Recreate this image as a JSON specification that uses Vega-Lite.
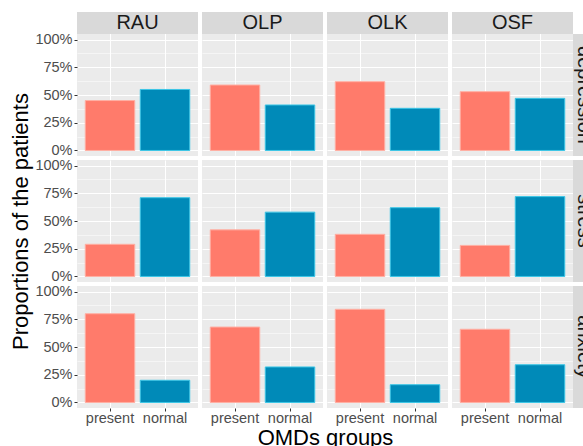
{
  "$schema": "https://vega.github.io/schema/vega-lite/v6.json",
  "background": "white",
  "padding": {"left": 9, "top": 12, "right": 0, "bottom": 0},
  "datasets": {
    "d": [
      {"condition": "depression", "omd": "RAU", "group": "present", "value": 0.45},
      {"condition": "depression", "omd": "RAU", "group": "normal", "value": 0.55},
      {"condition": "depression", "omd": "OLP", "group": "present", "value": 0.59},
      {"condition": "depression", "omd": "OLP", "group": "normal", "value": 0.41},
      {"condition": "depression", "omd": "OLK", "group": "present", "value": 0.62},
      {"condition": "depression", "omd": "OLK", "group": "normal", "value": 0.38},
      {"condition": "depression", "omd": "OSF", "group": "present", "value": 0.53},
      {"condition": "depression", "omd": "OSF", "group": "normal", "value": 0.47},
      {"condition": "stress", "omd": "RAU", "group": "present", "value": 0.29},
      {"condition": "stress", "omd": "RAU", "group": "normal", "value": 0.71},
      {"condition": "stress", "omd": "OLP", "group": "present", "value": 0.42},
      {"condition": "stress", "omd": "OLP", "group": "normal", "value": 0.58},
      {"condition": "stress", "omd": "OLK", "group": "present", "value": 0.38},
      {"condition": "stress", "omd": "OLK", "group": "normal", "value": 0.62},
      {"condition": "stress", "omd": "OSF", "group": "present", "value": 0.28},
      {"condition": "stress", "omd": "OSF", "group": "normal", "value": 0.72},
      {"condition": "anxiety", "omd": "RAU", "group": "present", "value": 0.80},
      {"condition": "anxiety", "omd": "RAU", "group": "normal", "value": 0.20},
      {"condition": "anxiety", "omd": "OLP", "group": "present", "value": 0.68},
      {"condition": "anxiety", "omd": "OLP", "group": "normal", "value": 0.32},
      {"condition": "anxiety", "omd": "OLK", "group": "present", "value": 0.84},
      {"condition": "anxiety", "omd": "OLK", "group": "normal", "value": 0.16},
      {"condition": "anxiety", "omd": "OSF", "group": "present", "value": 0.66},
      {"condition": "anxiety", "omd": "OSF", "group": "normal", "value": 0.34}
    ]
  },
  "columns": 4,
  "spacing": {"row": 4, "column": 4},
  "align": "each",
  "bounds": "flush",
  "concat": [
    {
      "width": 121, "height": 144,
      "data": {"name": "d"},
      "transform": [{"filter": "datum.condition == 'depression' && datum.omd == 'RAU'"}],
      "resolve": {"axis": {"x": "independent", "y": "independent"}},
      "layer": [
        {"mark": {"type": "bar", "strokeWidth": 1},
         "encoding": {
           "x": {"field": "group", "type": "nominal", "scale": {"domain": ["present", "normal"], "paddingInner": 0.1, "paddingOuter": 0.15}, "axis": {"labels": false, "ticks": false, "title": null, "grid": true, "bandPosition": 0.5, "gridWidth": 1.1}},
           "y": {"field": "value", "type": "quantitative", "scale": {"domain": [-0.05, 1.2484], "nice": false}, "axis": {"values": [0, 0.125, 0.25, 0.375, 0.5, 0.625, 0.75, 0.875, 1], "format": ".0%", "labelExpr": "datum.value * 4 % 1 == 0 ? datum.label : ''", "tickOpacity": {"condition": {"test": "datum.value * 4 % 1 == 0", "value": 1}, "value": 0}, "gridWidth": {"condition": {"test": "datum.value * 4 % 1 == 0", "value": 1.1}, "value": 0.5}, "title": null}},
           "color": {"field": "group", "type": "nominal", "scale": {"domain": ["present", "normal"], "range": ["#FF7B6B", "#008AB8"]}, "legend": null},
           "stroke": {"field": "group", "type": "nominal", "scale": {"domain": ["present", "normal"], "range": ["#FFAFA3", "#3CC6E6"]}, "legend": null}
         }},
        {"transform": [{"filter": "datum.group == 'present'"}], "mark": {"type": "rect", "fill": "#D9D9D9"},
         "encoding": {"y": {"datum": 1.05, "type": "quantitative", "scale": {"domain": [-0.05, 1.2484], "nice": false}, "axis": null}, "y2": {"datum": 1.2484}}},
        {"transform": [{"filter": "datum.group == 'present'"}], "mark": {"type": "text", "fontSize": 20, "color": "#1A1A1A", "font": "Liberation Sans", "baseline": "middle", "align": "center"},
         "encoding": {"y": {"datum": 1.149, "type": "quantitative", "scale": {"domain": [-0.05, 1.2484], "nice": false}, "axis": null}, "text": {"field": "omd"}}}
      ]
    },
    {
      "width": 121, "height": 144,
      "data": {"name": "d"},
      "transform": [{"filter": "datum.condition == 'depression' && datum.omd == 'OLP'"}],
      "resolve": {"axis": {"x": "independent", "y": "independent"}},
      "layer": [
        {"mark": {"type": "bar", "strokeWidth": 1},
         "encoding": {
           "x": {"field": "group", "type": "nominal", "scale": {"domain": ["present", "normal"], "paddingInner": 0.1, "paddingOuter": 0.15}, "axis": {"labels": false, "ticks": false, "title": null, "grid": true, "bandPosition": 0.5, "gridWidth": 1.1}},
           "y": {"field": "value", "type": "quantitative", "scale": {"domain": [-0.05, 1.2484], "nice": false}, "axis": {"values": [0, 0.125, 0.25, 0.375, 0.5, 0.625, 0.75, 0.875, 1], "labels": false, "ticks": false, "gridWidth": {"condition": {"test": "datum.value * 4 % 1 == 0", "value": 1.1}, "value": 0.5}, "title": null}},
           "color": {"field": "group", "type": "nominal", "scale": {"domain": ["present", "normal"], "range": ["#FF7B6B", "#008AB8"]}, "legend": null},
           "stroke": {"field": "group", "type": "nominal", "scale": {"domain": ["present", "normal"], "range": ["#FFAFA3", "#3CC6E6"]}, "legend": null}
         }},
        {"transform": [{"filter": "datum.group == 'present'"}], "mark": {"type": "rect", "fill": "#D9D9D9"},
         "encoding": {"y": {"datum": 1.05, "type": "quantitative", "scale": {"domain": [-0.05, 1.2484], "nice": false}, "axis": null}, "y2": {"datum": 1.2484}}},
        {"transform": [{"filter": "datum.group == 'present'"}], "mark": {"type": "text", "fontSize": 20, "color": "#1A1A1A", "font": "Liberation Sans", "baseline": "middle", "align": "center"},
         "encoding": {"y": {"datum": 1.149, "type": "quantitative", "scale": {"domain": [-0.05, 1.2484], "nice": false}, "axis": null}, "text": {"field": "omd"}}}
      ]
    },
    {
      "width": 121, "height": 144,
      "data": {"name": "d"},
      "transform": [{"filter": "datum.condition == 'depression' && datum.omd == 'OLK'"}],
      "resolve": {"axis": {"x": "independent", "y": "independent"}},
      "layer": [
        {"mark": {"type": "bar", "strokeWidth": 1},
         "encoding": {
           "x": {"field": "group", "type": "nominal", "scale": {"domain": ["present", "normal"], "paddingInner": 0.1, "paddingOuter": 0.15}, "axis": {"labels": false, "ticks": false, "title": null, "grid": true, "bandPosition": 0.5, "gridWidth": 1.1}},
           "y": {"field": "value", "type": "quantitative", "scale": {"domain": [-0.05, 1.2484], "nice": false}, "axis": {"values": [0, 0.125, 0.25, 0.375, 0.5, 0.625, 0.75, 0.875, 1], "labels": false, "ticks": false, "gridWidth": {"condition": {"test": "datum.value * 4 % 1 == 0", "value": 1.1}, "value": 0.5}, "title": null}},
           "color": {"field": "group", "type": "nominal", "scale": {"domain": ["present", "normal"], "range": ["#FF7B6B", "#008AB8"]}, "legend": null},
           "stroke": {"field": "group", "type": "nominal", "scale": {"domain": ["present", "normal"], "range": ["#FFAFA3", "#3CC6E6"]}, "legend": null}
         }},
        {"transform": [{"filter": "datum.group == 'present'"}], "mark": {"type": "rect", "fill": "#D9D9D9"},
         "encoding": {"y": {"datum": 1.05, "type": "quantitative", "scale": {"domain": [-0.05, 1.2484], "nice": false}, "axis": null}, "y2": {"datum": 1.2484}}},
        {"transform": [{"filter": "datum.group == 'present'"}], "mark": {"type": "text", "fontSize": 20, "color": "#1A1A1A", "font": "Liberation Sans", "baseline": "middle", "align": "center"},
         "encoding": {"y": {"datum": 1.149, "type": "quantitative", "scale": {"domain": [-0.05, 1.2484], "nice": false}, "axis": null}, "text": {"field": "omd"}}}
      ]
    },
    {
      "width": 121, "height": 144,
      "data": {"name": "d"},
      "transform": [{"filter": "datum.condition == 'depression' && datum.omd == 'OSF'"}],
      "resolve": {"scale": {"x": "independent"}, "axis": {"x": "independent", "y": "independent"}},
      "layer": [
        {"mark": {"type": "bar", "strokeWidth": 1},
         "encoding": {
           "x": {"field": "group", "type": "nominal", "scale": {"domain": ["present", "normal"], "paddingInner": 0.1, "paddingOuter": 0.15}, "axis": {"labels": false, "ticks": false, "title": null, "grid": true, "bandPosition": 0.5, "gridWidth": 1.1}},
           "y": {"field": "value", "type": "quantitative", "scale": {"domain": [-0.05, 1.2484], "nice": false}, "axis": {"values": [0, 0.125, 0.25, 0.375, 0.5, 0.625, 0.75, 0.875, 1], "labels": false, "ticks": false, "gridWidth": {"condition": {"test": "datum.value * 4 % 1 == 0", "value": 1.1}, "value": 0.5}, "title": null}},
           "color": {"field": "group", "type": "nominal", "scale": {"domain": ["present", "normal"], "range": ["#FF7B6B", "#008AB8"]}, "legend": null},
           "stroke": {"field": "group", "type": "nominal", "scale": {"domain": ["present", "normal"], "range": ["#FFAFA3", "#3CC6E6"]}, "legend": null}
         }},
        {"transform": [{"filter": "datum.group == 'present'"}], "mark": {"type": "rect", "fill": "#D9D9D9"},
         "encoding": {"y": {"datum": 1.05, "type": "quantitative", "scale": {"domain": [-0.05, 1.2484], "nice": false}, "axis": null}, "y2": {"datum": 1.2484}}},
        {"transform": [{"filter": "datum.group == 'present'"}], "mark": {"type": "text", "fontSize": 20, "color": "#1A1A1A", "font": "Liberation Sans", "baseline": "middle", "align": "center"},
         "encoding": {"y": {"datum": 1.149, "type": "quantitative", "scale": {"domain": [-0.05, 1.2484], "nice": false}, "axis": null}, "text": {"field": "omd"}}},
        {"transform": [{"filter": "datum.group == 'present'"}], "mark": {"type": "rect", "fill": "#D9D9D9"},
         "encoding": {"x": {"datum": 1, "type": "quantitative", "scale": {"domain": [0, 1], "nice": false}, "axis": null}, "x2": {"datum": 1.25}, "y": {"datum": -0.05, "type": "quantitative", "scale": {"domain": [-0.05, 1.2484], "nice": false}, "axis": null}, "y2": {"datum": 1.05}}},
        {"transform": [{"filter": "datum.group == 'present'"}], "mark": {"type": "text", "fontSize": 20, "color": "#1A1A1A", "font": "Liberation Sans", "baseline": "middle", "align": "center", "angle": 90},
         "encoding": {"x": {"datum": 1.095, "type": "quantitative", "scale": {"domain": [0, 1], "nice": false}, "axis": null}, "y": {"datum": 0.5, "type": "quantitative", "scale": {"domain": [-0.05, 1.2484], "nice": false}, "axis": null}, "text": {"field": "condition"}}}
      ]
    },
    {
      "width": 121, "height": 122,
      "data": {"name": "d"},
      "transform": [{"filter": "datum.condition == 'stress' && datum.omd == 'RAU'"}],
      "layer": [
        {"mark": {"type": "bar", "strokeWidth": 1},
         "encoding": {
           "x": {"field": "group", "type": "nominal", "scale": {"domain": ["present", "normal"], "paddingInner": 0.1, "paddingOuter": 0.15}, "axis": {"labels": false, "ticks": false, "title": null, "grid": true, "bandPosition": 0.5, "gridWidth": 1.1}},
           "y": {"field": "value", "type": "quantitative", "scale": {"domain": [-0.05, 1.05], "nice": false}, "axis": {"values": [0, 0.125, 0.25, 0.375, 0.5, 0.625, 0.75, 0.875, 1], "format": ".0%", "labelExpr": "datum.value * 4 % 1 == 0 ? datum.label : ''", "tickOpacity": {"condition": {"test": "datum.value * 4 % 1 == 0", "value": 1}, "value": 0}, "gridWidth": {"condition": {"test": "datum.value * 4 % 1 == 0", "value": 1.1}, "value": 0.5}, "title": "Proportions of the patients", "titlePadding": 2}},
           "color": {"field": "group", "type": "nominal", "scale": {"domain": ["present", "normal"], "range": ["#FF7B6B", "#008AB8"]}, "legend": null},
           "stroke": {"field": "group", "type": "nominal", "scale": {"domain": ["present", "normal"], "range": ["#FFAFA3", "#3CC6E6"]}, "legend": null}
         }}
      ]
    },
    {
      "width": 121, "height": 122,
      "data": {"name": "d"},
      "transform": [{"filter": "datum.condition == 'stress' && datum.omd == 'OLP'"}],
      "layer": [
        {"mark": {"type": "bar", "strokeWidth": 1},
         "encoding": {
           "x": {"field": "group", "type": "nominal", "scale": {"domain": ["present", "normal"], "paddingInner": 0.1, "paddingOuter": 0.15}, "axis": {"labels": false, "ticks": false, "title": null, "grid": true, "bandPosition": 0.5, "gridWidth": 1.1}},
           "y": {"field": "value", "type": "quantitative", "scale": {"domain": [-0.05, 1.05], "nice": false}, "axis": {"values": [0, 0.125, 0.25, 0.375, 0.5, 0.625, 0.75, 0.875, 1], "labels": false, "ticks": false, "gridWidth": {"condition": {"test": "datum.value * 4 % 1 == 0", "value": 1.1}, "value": 0.5}, "title": null}},
           "color": {"field": "group", "type": "nominal", "scale": {"domain": ["present", "normal"], "range": ["#FF7B6B", "#008AB8"]}, "legend": null},
           "stroke": {"field": "group", "type": "nominal", "scale": {"domain": ["present", "normal"], "range": ["#FFAFA3", "#3CC6E6"]}, "legend": null}
         }}
      ]
    },
    {
      "width": 121, "height": 122,
      "data": {"name": "d"},
      "transform": [{"filter": "datum.condition == 'stress' && datum.omd == 'OLK'"}],
      "layer": [
        {"mark": {"type": "bar", "strokeWidth": 1},
         "encoding": {
           "x": {"field": "group", "type": "nominal", "scale": {"domain": ["present", "normal"], "paddingInner": 0.1, "paddingOuter": 0.15}, "axis": {"labels": false, "ticks": false, "title": null, "grid": true, "bandPosition": 0.5, "gridWidth": 1.1}},
           "y": {"field": "value", "type": "quantitative", "scale": {"domain": [-0.05, 1.05], "nice": false}, "axis": {"values": [0, 0.125, 0.25, 0.375, 0.5, 0.625, 0.75, 0.875, 1], "labels": false, "ticks": false, "gridWidth": {"condition": {"test": "datum.value * 4 % 1 == 0", "value": 1.1}, "value": 0.5}, "title": null}},
           "color": {"field": "group", "type": "nominal", "scale": {"domain": ["present", "normal"], "range": ["#FF7B6B", "#008AB8"]}, "legend": null},
           "stroke": {"field": "group", "type": "nominal", "scale": {"domain": ["present", "normal"], "range": ["#FFAFA3", "#3CC6E6"]}, "legend": null}
         }}
      ]
    },
    {
      "width": 121, "height": 122,
      "data": {"name": "d"},
      "transform": [{"filter": "datum.condition == 'stress' && datum.omd == 'OSF'"}],
      "resolve": {"scale": {"x": "independent"}, "axis": {"x": "independent", "y": "independent"}},
      "layer": [
        {"mark": {"type": "bar", "strokeWidth": 1},
         "encoding": {
           "x": {"field": "group", "type": "nominal", "scale": {"domain": ["present", "normal"], "paddingInner": 0.1, "paddingOuter": 0.15}, "axis": {"labels": false, "ticks": false, "title": null, "grid": true, "bandPosition": 0.5, "gridWidth": 1.1}},
           "y": {"field": "value", "type": "quantitative", "scale": {"domain": [-0.05, 1.05], "nice": false}, "axis": {"values": [0, 0.125, 0.25, 0.375, 0.5, 0.625, 0.75, 0.875, 1], "labels": false, "ticks": false, "gridWidth": {"condition": {"test": "datum.value * 4 % 1 == 0", "value": 1.1}, "value": 0.5}, "title": null}},
           "color": {"field": "group", "type": "nominal", "scale": {"domain": ["present", "normal"], "range": ["#FF7B6B", "#008AB8"]}, "legend": null},
           "stroke": {"field": "group", "type": "nominal", "scale": {"domain": ["present", "normal"], "range": ["#FFAFA3", "#3CC6E6"]}, "legend": null}
         }},
        {"transform": [{"filter": "datum.group == 'present'"}], "mark": {"type": "rect", "fill": "#D9D9D9"},
         "encoding": {"x": {"datum": 1, "type": "quantitative", "scale": {"domain": [0, 1], "nice": false}, "axis": null}, "x2": {"datum": 1.25}, "y": {"datum": -0.05, "type": "quantitative", "scale": {"domain": [-0.05, 1.05], "nice": false}, "axis": null}, "y2": {"datum": 1.05}}},
        {"transform": [{"filter": "datum.group == 'present'"}], "mark": {"type": "text", "fontSize": 20, "color": "#1A1A1A", "font": "Liberation Sans", "baseline": "middle", "align": "center", "angle": 90},
         "encoding": {"x": {"datum": 1.095, "type": "quantitative", "scale": {"domain": [0, 1], "nice": false}, "axis": null}, "y": {"datum": 0.5, "type": "quantitative", "scale": {"domain": [-0.05, 1.05], "nice": false}, "axis": null}, "text": {"field": "condition"}}}
      ]
    },
    {
      "width": 121, "height": 122,
      "data": {"name": "d"},
      "transform": [{"filter": "datum.condition == 'anxiety' && datum.omd == 'RAU'"}],
      "layer": [
        {"mark": {"type": "bar", "strokeWidth": 1},
         "encoding": {
           "x": {"field": "group", "type": "nominal", "scale": {"domain": ["present", "normal"], "paddingInner": 0.1, "paddingOuter": 0.15}, "axis": {"labelAngle": 0, "labelPadding": 0, "title": null, "grid": true, "bandPosition": 0.5, "gridWidth": 1.1}},
           "y": {"field": "value", "type": "quantitative", "scale": {"domain": [-0.05, 1.05], "nice": false}, "axis": {"values": [0, 0.125, 0.25, 0.375, 0.5, 0.625, 0.75, 0.875, 1], "format": ".0%", "labelExpr": "datum.value * 4 % 1 == 0 ? datum.label : ''", "tickOpacity": {"condition": {"test": "datum.value * 4 % 1 == 0", "value": 1}, "value": 0}, "gridWidth": {"condition": {"test": "datum.value * 4 % 1 == 0", "value": 1.1}, "value": 0.5}, "title": null}},
           "color": {"field": "group", "type": "nominal", "scale": {"domain": ["present", "normal"], "range": ["#FF7B6B", "#008AB8"]}, "legend": null},
           "stroke": {"field": "group", "type": "nominal", "scale": {"domain": ["present", "normal"], "range": ["#FFAFA3", "#3CC6E6"]}, "legend": null}
         }}
      ]
    },
    {
      "width": 121, "height": 122,
      "data": {"name": "d"},
      "transform": [{"filter": "datum.condition == 'anxiety' && datum.omd == 'OLP'"}],
      "layer": [
        {"mark": {"type": "bar", "strokeWidth": 1},
         "encoding": {
           "x": {"field": "group", "type": "nominal", "scale": {"domain": ["present", "normal"], "paddingInner": 0.1, "paddingOuter": 0.15}, "axis": {"labelAngle": 0, "labelPadding": 0, "title": "OMDs groups", "titleX": 123, "titlePadding": 3, "grid": true, "bandPosition": 0.5, "gridWidth": 1.1}},
           "y": {"field": "value", "type": "quantitative", "scale": {"domain": [-0.05, 1.05], "nice": false}, "axis": {"values": [0, 0.125, 0.25, 0.375, 0.5, 0.625, 0.75, 0.875, 1], "labels": false, "ticks": false, "gridWidth": {"condition": {"test": "datum.value * 4 % 1 == 0", "value": 1.1}, "value": 0.5}, "title": null}},
           "color": {"field": "group", "type": "nominal", "scale": {"domain": ["present", "normal"], "range": ["#FF7B6B", "#008AB8"]}, "legend": null},
           "stroke": {"field": "group", "type": "nominal", "scale": {"domain": ["present", "normal"], "range": ["#FFAFA3", "#3CC6E6"]}, "legend": null}
         }}
      ]
    },
    {
      "width": 121, "height": 122,
      "data": {"name": "d"},
      "transform": [{"filter": "datum.condition == 'anxiety' && datum.omd == 'OLK'"}],
      "layer": [
        {"mark": {"type": "bar", "strokeWidth": 1},
         "encoding": {
           "x": {"field": "group", "type": "nominal", "scale": {"domain": ["present", "normal"], "paddingInner": 0.1, "paddingOuter": 0.15}, "axis": {"labelAngle": 0, "labelPadding": 0, "title": null, "grid": true, "bandPosition": 0.5, "gridWidth": 1.1}},
           "y": {"field": "value", "type": "quantitative", "scale": {"domain": [-0.05, 1.05], "nice": false}, "axis": {"values": [0, 0.125, 0.25, 0.375, 0.5, 0.625, 0.75, 0.875, 1], "labels": false, "ticks": false, "gridWidth": {"condition": {"test": "datum.value * 4 % 1 == 0", "value": 1.1}, "value": 0.5}, "title": null}},
           "color": {"field": "group", "type": "nominal", "scale": {"domain": ["present", "normal"], "range": ["#FF7B6B", "#008AB8"]}, "legend": null},
           "stroke": {"field": "group", "type": "nominal", "scale": {"domain": ["present", "normal"], "range": ["#FFAFA3", "#3CC6E6"]}, "legend": null}
         }}
      ]
    },
    {
      "width": 121, "height": 122,
      "data": {"name": "d"},
      "transform": [{"filter": "datum.condition == 'anxiety' && datum.omd == 'OSF'"}],
      "resolve": {"scale": {"x": "independent"}, "axis": {"x": "independent", "y": "independent"}},
      "layer": [
        {"mark": {"type": "bar", "strokeWidth": 1},
         "encoding": {
           "x": {"field": "group", "type": "nominal", "scale": {"domain": ["present", "normal"], "paddingInner": 0.1, "paddingOuter": 0.15}, "axis": {"labelAngle": 0, "labelPadding": 0, "title": null, "grid": true, "bandPosition": 0.5, "gridWidth": 1.1}},
           "y": {"field": "value", "type": "quantitative", "scale": {"domain": [-0.05, 1.05], "nice": false}, "axis": {"values": [0, 0.125, 0.25, 0.375, 0.5, 0.625, 0.75, 0.875, 1], "labels": false, "ticks": false, "gridWidth": {"condition": {"test": "datum.value * 4 % 1 == 0", "value": 1.1}, "value": 0.5}, "title": null}},
           "color": {"field": "group", "type": "nominal", "scale": {"domain": ["present", "normal"], "range": ["#FF7B6B", "#008AB8"]}, "legend": null},
           "stroke": {"field": "group", "type": "nominal", "scale": {"domain": ["present", "normal"], "range": ["#FFAFA3", "#3CC6E6"]}, "legend": null}
         }},
        {"transform": [{"filter": "datum.group == 'present'"}], "mark": {"type": "rect", "fill": "#D9D9D9"},
         "encoding": {"x": {"datum": 1, "type": "quantitative", "scale": {"domain": [0, 1], "nice": false}, "axis": null}, "x2": {"datum": 1.25}, "y": {"datum": -0.05, "type": "quantitative", "scale": {"domain": [-0.05, 1.05], "nice": false}, "axis": null}, "y2": {"datum": 1.05}}},
        {"transform": [{"filter": "datum.group == 'present'"}], "mark": {"type": "text", "fontSize": 20, "color": "#1A1A1A", "font": "Liberation Sans", "baseline": "middle", "align": "center", "angle": 90},
         "encoding": {"x": {"datum": 1.095, "type": "quantitative", "scale": {"domain": [0, 1], "nice": false}, "axis": null}, "y": {"datum": 0.5, "type": "quantitative", "scale": {"domain": [-0.05, 1.05], "nice": false}, "axis": null}, "text": {"field": "condition"}}}
      ]
    }
  ],
  "config": {
    "font": "Liberation Sans",
    "view": {"fill": "#EBEBEB", "stroke": null},
    "axis": {
      "domain": false,
      "gridColor": "#FFFFFF",
      "labelFont": "Liberation Sans",
      "labelFontSize": 14.5,
      "labelColor": "#4D4D4D",
      "tickColor": "#333333",
      "tickSize": 3,
      "tickWidth": 1,
      "labelPadding": 2,
      "titleFont": "Liberation Sans",
      "titleFontSize": 22,
      "titleFontWeight": "normal",
      "titleColor": "#000000"
    }
  }
}
